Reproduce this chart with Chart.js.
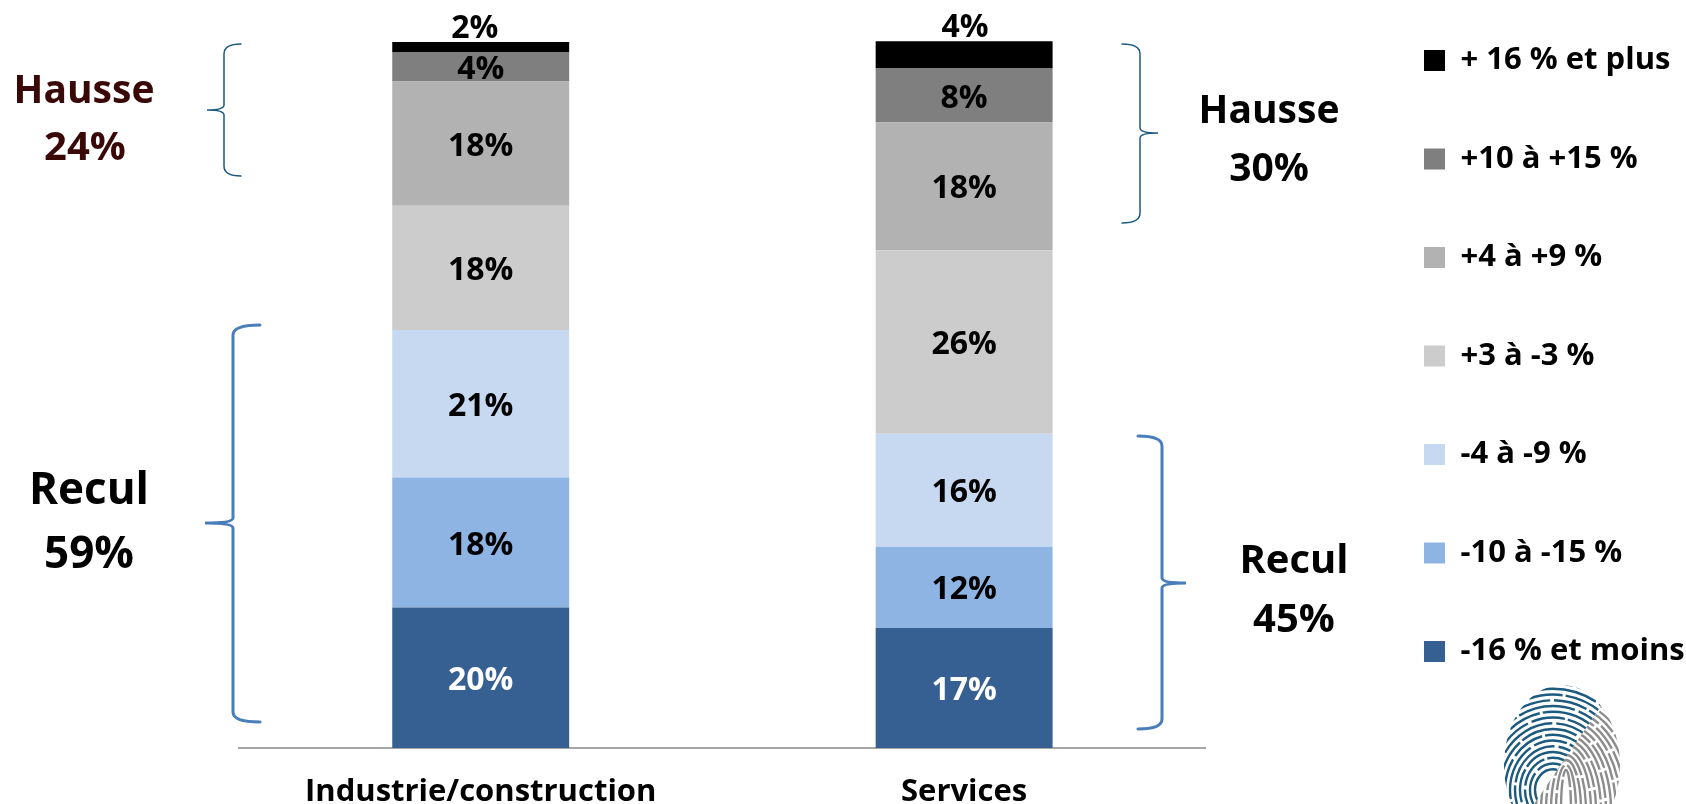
<!DOCTYPE html>
<html lang="fr">
<head>
<meta charset="utf-8">
<title>Évolution du chiffre d'affaires</title>
<script src="https://cdn.jsdelivr.net/npm/chart.js@4/dist/chart.umd.min.js"></script>
<style>
  html, body { margin: 0; padding: 0; background: #fff; overflow: hidden; }
  canvas { display: block; }
</style>
</head>
<body>
<canvas id="chart" width="1686" height="804"></canvas>
<script>
const categories = ["Industrie/construction", "Services"];

const moins16 = [19.9, 17.0];
const moins10 = [18.4, 11.5];
const moins4 = [20.9, 16.0];
const stable = [17.6, 26.0];
const plus4 = [17.6, 18.1];
const plus10 = [4.1, 7.65];
const plus16 = [1.5, 3.85];

const seriesNames = ["-16 % et moins", "-10 à -15 %", "-4 à -9 %", "+3 à -3 %", "+4 à +9 %", "+10 à +15 %", "+ 16 % et plus"];
const seriesValues = [moins16, moins10, moins4, stable, plus4, plus10, plus16];
const seriesColors = ["#376092", "#8eb4e3", "#c6d9f1", "#cccccc", "#b2b2b2", "#7f7f7f", "#000000"];

const FONT = "'Open Sans', sans-serif";
const BLUE = "#4a7ebb";
const NAVY = "#1c5a80";

// accolades : [bout, dos, pointe, haut, bas, milieu, couleur, épaisseur]
const braces = [
  [241, 224, 207, 44, 176, 110, NAVY, 1.5],
  [260, 233, 205, 325, 722, 523, BLUE, 3],
  [1122, 1140, 1158, 44, 223, 133, NAVY, 1.5],
  [1138, 1162, 1186, 436, 729, 583, BLUE, 3],
];

// notes : [texte, x, ligne de base, taille, couleur]
const notes = [
  ["Hausse", 84, 103, 39, "#3b0808"],
  ["24%", 85, 160, 40, "#3b0808"],
  ["Recul", 89, 504, 44, "#000"],
  ["59%", 89, 568, 44, "#000"],
  ["Hausse", 1269, 123, 39, "#000"],
  ["30%", 1269, 181, 39, "#000"],
  ["Recul", 1294, 573, 40, "#000"],
  ["45%", 1294, 632, 40, "#000"],
];

const topLabelShift = [-6, 1];

function drawBrace(ctx, [end, spine, tip, top, bottom, mid, color, width]) {
  const r = 5;
  ctx.strokeStyle = color;
  ctx.lineWidth = width;
  ctx.lineCap = "round";
  ctx.beginPath();
  ctx.moveTo(end, top);
  ctx.quadraticCurveTo(spine, top, spine, top + r * 2);
  ctx.lineTo(spine, mid - r);
  ctx.quadraticCurveTo(spine, mid, tip, mid);
  ctx.quadraticCurveTo(spine, mid, spine, mid + r);
  ctx.lineTo(spine, bottom - r * 2);
  ctx.quadraticCurveTo(spine, bottom, end, bottom);
  ctx.stroke();
}

function drawFingerprint(ctx) {
  const cx = 1562, cy = 765, rx = 58, ry = 80;
  const halves = [
    { color: "#1c5a80", clip: [[1612, 690], [1530, 810], [1480, 810], [1480, 670], [1612, 670]], dash: [34, 3, 58, 4], ex: 1553, ey: 790, from: 18, grow: 0 },
    { color: "#8c8c8c", clip: [[1612, 690], [1530, 810], [1640, 810], [1640, 690]], dash: [40, 3, 26, 3], ex: 1566, ey: 810, from: 5, grow: 35 },
  ];
  halves.forEach((h) => {
    ctx.save();
    ctx.beginPath();
    ctx.ellipse(cx, cy, rx, ry, 0, 0, Math.PI * 2);
    ctx.clip();
    ctx.beginPath();
    h.clip.forEach(([x, y], i) => (i ? ctx.lineTo(x, y) : ctx.moveTo(x, y)));
    ctx.closePath();
    ctx.clip();
    ctx.strokeStyle = h.color;
    ctx.lineWidth = 2.4;
    ctx.setLineDash(h.dash);
    ctx.lineCap = "butt";
    for (let r = h.from; r < 115; r += 5) {
      ctx.beginPath();
      ctx.ellipse(h.ex, h.ey, r, r * (h.grow ? 1 : 1.15) + h.grow, 0, 0, Math.PI * 2);
      ctx.stroke();
    }
    ctx.restore();
  });
}

const placeLegend = {
  id: "placeLegend",
  afterLayout(chart) {
    const legend = chart.legend;
    const pad = chart.options.plugins.legend.labels.padding;
    const w = legend.width;
    legend.left = 1424 - pad;
    legend.right = legend.left + w;
    legend.top = 49 - pad - 4;
    legend.bottom = legend.top + legend.height;
  },
};

const barLabels = {
  id: "barLabels",
  afterDatasetsDraw(chart) {
    const ctx = chart.ctx;
    ctx.save();
    ctx.font = `bold 32px ${FONT}`;
    ctx.textAlign = "center";
    ctx.textBaseline = "middle";
    chart.data.datasets.forEach((ds, d) => {
      chart.getDatasetMeta(d).data.forEach((bar, i) => {
        const isTop = d === chart.data.datasets.length - 1;
        const text = Math.round(ds.data[i]) + "%";
        ctx.fillStyle = d === 0 ? "#fff" : "#000";
        if (isTop) {
          ctx.fillText(text, bar.x + topLabelShift[i], bar.y - 13);
        } else {
          ctx.fillText(text, bar.x, (bar.y + bar.base) / 2 + 3);
        }
      });
    });
    ctx.restore();
  },
};

const annotations = {
  id: "annotations",
  afterDraw(chart) {
    const ctx = chart.ctx;
    ctx.save();
    braces.forEach((b) => drawBrace(ctx, b));
    ctx.textAlign = "center";
    ctx.textBaseline = "alphabetic";
    notes.forEach(([text, x, y, size, color]) => {
      ctx.font = `bold ${size}px ${FONT}`;
      ctx.fillStyle = color;
      ctx.fillText(text, x, y);
    });
    drawFingerprint(ctx);
    ctx.restore();
  },
};

new Chart(document.getElementById("chart"), {
  type: "bar",
  data: {
    labels: categories,
    datasets: seriesNames.map((name, i) => ({
      label: name,
      data: seriesValues[i],
      backgroundColor: seriesColors[i],
      borderWidth: 0,
      barPercentage: 0.366,
      categoryPercentage: 1,
    })),
  },
  options: {
    responsive: false,
    animation: false,
    events: [],
    layout: { padding: { left: 239, right: 142 } },
    scales: {
      x: {
        stacked: true,
        grid: { display: false, drawTicks: false },
        border: { color: "#a6a6a6", width: 2 },
        ticks: {
          color: "#000",
          padding: 26,
          maxRotation: 0,
          font: { family: FONT, size: 31, weight: "bold" },
        },
        afterFit: (scale) => { scale.height = 56; },
      },
      y: { stacked: true, display: false, min: 0, max: 105.95 },
    },
    plugins: {
      tooltip: { enabled: false },
      legend: {
        position: "right",
        align: "start",
        reverse: true,
        labels: {
          boxWidth: 21,
          boxHeight: 21,
          padding: 67.5,
          color: "#000",
          font: { family: FONT, size: 31, weight: "bold" },
        },
      },
    },
  },
  plugins: [placeLegend, barLabels, annotations],
});
</script>
</body>
</html>
